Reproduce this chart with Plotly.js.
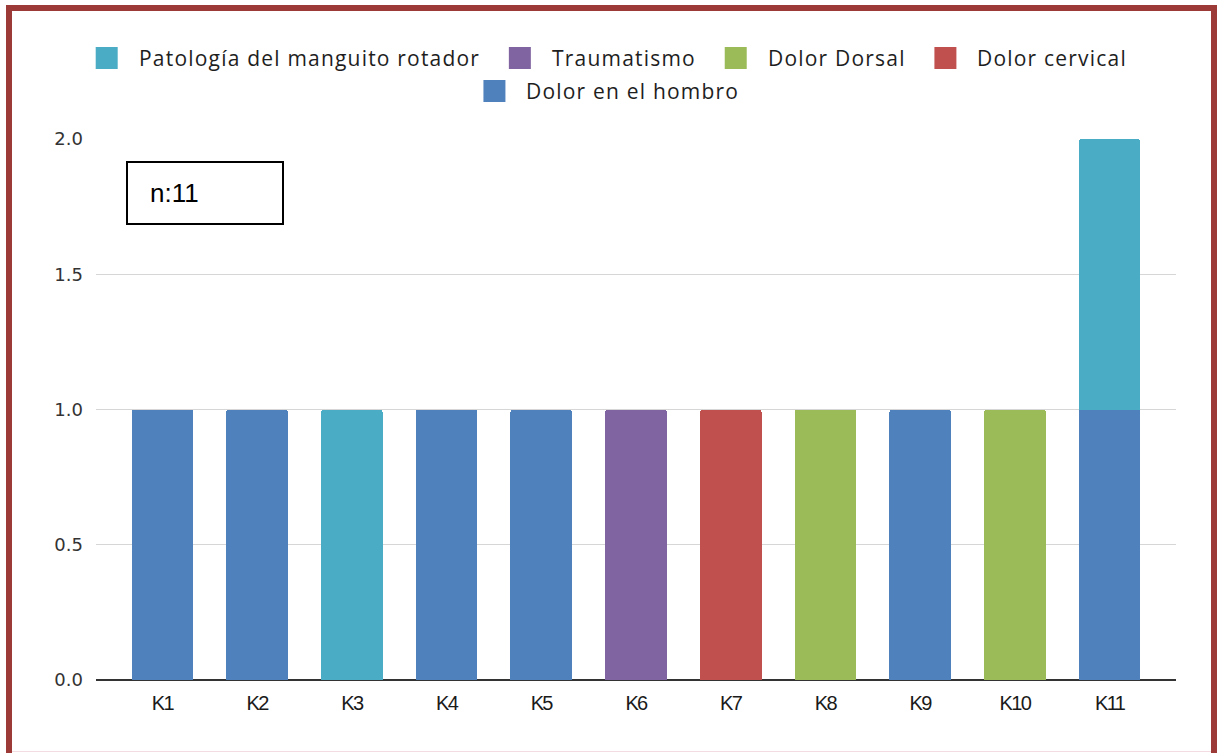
<!DOCTYPE html>
<html>
<head>
<meta charset="utf-8">
<script src="https://cdn.plot.ly/plotly-3.0.1.min.js"></script>
<style>
  html, body { margin: 0; padding: 0; background: #ffffff; }
  #wrap { position: relative; width: 1219px; height: 753px; overflow: hidden; }
  #chart { position: absolute; left: 0; top: 0; width: 1219px; height: 753px; }
  #frame {
    position: absolute; left: 6px; top: 5px; width: 1199px; height: 760px;
    border: 6px solid #9b3a37; pointer-events: none; box-sizing: content-box;
  }
  #baseline {
    position: absolute; left: 12px; top: 751px; width: 1199px; height: 1px;
    background: #f4dde2; pointer-events: none;
  }
  .xtick text { letter-spacing: -1.6px; }
  .annotation:not([data-index="0"]) .annotation-text { letter-spacing: 1.2px; }
</style>
</head>
<body>
<div id="wrap">
  <div id="chart"></div>
  <div id="baseline"></div>
  <div id="frame"></div>
</div>
<script>
// Patients K1..K11 and the complaint recorded for each
const categories = ['K1', 'K2', 'K3', 'K4', 'K5', 'K6', 'K7', 'K8', 'K9', 'K10', 'K11'];

const seriesNames = [
  'Patología del manguito rotador',
  'Traumatismo',
  'Dolor Dorsal',
  'Dolor cervical',
  'Dolor en el hombro'
];
const seriesColors = ['#4bacc6', '#8064a2', '#9bbb59', '#c0504d', '#4f81bd'];

const manguito = [null, null, 1, null, null, null, null, null, null, null, 1];
const traumatismo = [null, null, null, null, null, 1, null, null, null, null, null];
const dorsal = [null, null, null, null, null, null, null, 1, null, 1, null];
const cervical = [null, null, null, null, null, null, 1, null, null, null, null];
const hombro = [1, 1, null, 1, 1, null, null, null, 1, null, 1];

const seriesValues = [manguito, traumatismo, dorsal, cervical, hombro];

const yTickVals = [0, 0.5, 1, 1.5, 2];
const yTickText = ['0.0', '0.5', '1.0', '1.5', '2.0'];
const sampleLabel = 'n:11';

// Stack order: shoulder pain at the bottom, then the rest
const stackOrder = [4, 0, 1, 2, 3];
const traces = stackOrder.map(i => ({
  type: 'bar',
  name: seriesNames[i],
  x: categories,
  y: seriesValues[i],
  marker: { color: seriesColors[i], line: { width: 0 } },
  showlegend: false,
  hoverinfo: 'x+y+name'
}));

// Plot area in pixels
const W = 1219, H = 753;
const M = { l: 96, r: 43, t: 139, b: 73 };
const pw = W - M.l - M.r, ph = H - M.t - M.b;
const px = x => (x - M.l) / pw;
const py = y => (H - M.b - y) / ph;

// Legend laid out by hand with large square swatches
const legendFont = { family: 'Open Sans', size: 21, color: '#1e1e1e' };
const canvas = document.createElement('canvas');
const ctx = canvas.getContext('2d');
ctx.font = legendFont.size + 'px "' + legendFont.family + '"';
const spacing = 1.2;
const textWidth = s => ctx.measureText(s).width + spacing * s.length;

const sw = 22, swGap = 20, itemGap = 30, centerX = 611;
const rows = [[0, 1, 2, 3], [4]];
const rowY = [58, 91];
const shapes = [];
const annotations = [];

// sample size box
annotations.push({
  xref: 'paper', yref: 'paper', x: px(148), y: py(193),
  xanchor: 'left', yanchor: 'middle', showarrow: false, align: 'left',
  text: sampleLabel,
  font: { family: 'Liberation Sans', size: 26, color: '#000000' }
});
shapes.push({
  type: 'rect', xref: 'paper', yref: 'paper',
  x0: px(127), x1: px(283), y0: py(162), y1: py(224),
  line: { color: '#000000', width: 2 }, fillcolor: 'rgba(0,0,0,0)'
});

rows.forEach((row, r) => {
  const widths = row.map(i => sw + swGap + textWidth(seriesNames[i]));
  const total = widths.reduce((a, b) => a + b, 0) + itemGap * (row.length - 1);
  let x = centerX - total / 2;
  const yc = rowY[r];
  row.forEach((i, k) => {
    shapes.push({
      type: 'rect', xref: 'paper', yref: 'paper',
      x0: px(x), x1: px(x + sw), y0: py(yc - sw / 2), y1: py(yc + sw / 2),
      line: { width: 0 }, fillcolor: seriesColors[i]
    });
    annotations.push({
      xref: 'paper', yref: 'paper', x: px(x + sw + swGap), y: py(yc),
      xanchor: 'left', yanchor: 'middle', showarrow: false, align: 'left',
      borderpad: 0,
      text: seriesNames[i], font: legendFont
    });
    x += widths[k] + itemGap;
  });
});

const layout = {
  width: W, height: H,
  margin: M,
  paper_bgcolor: '#ffffff',
  plot_bgcolor: '#ffffff',
  barmode: 'stack',
  bargap: 0.35,
  barcornerradius: 3,
  showlegend: false,
  xaxis: {
    type: 'category',
    range: [-0.7, 10.7],
    showgrid: false,
    showline: false,
    ticks: '',
    ticklabelstandoff: 9,
    tickfont: { family: 'Liberation Sans', size: 20, color: '#1a1a1a' },
    fixedrange: true
  },
  yaxis: {
    range: [0, 2],
    tickvals: yTickVals,
    ticktext: yTickText,
    showgrid: true,
    gridcolor: '#d6d6d6',
    gridwidth: 1,
    zeroline: true,
    zerolinecolor: '#333333',
    zerolinewidth: 1.5,
    showline: false,
    ticks: '',
    ticklabelstandoff: 12,
    tickfont: { family: 'DejaVu Sans', size: 18, color: '#333333' },
    fixedrange: true
  },
  shapes: shapes,
  annotations: annotations
};

Plotly.newPlot('chart', traces, layout, { displayModeBar: false, staticPlot: true });
</script>
</body>
</html>
